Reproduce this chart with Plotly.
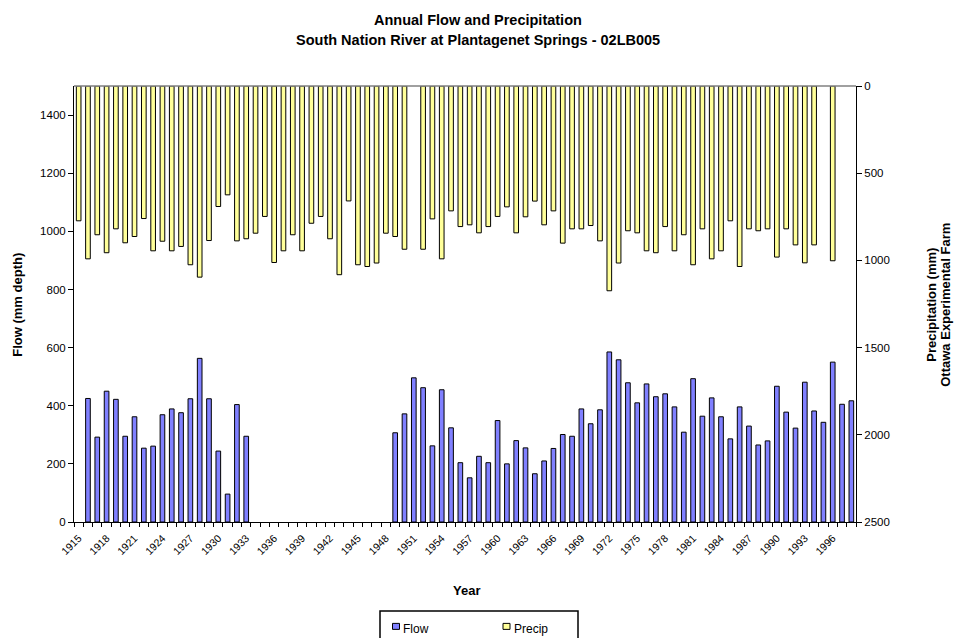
import plotly.graph_objects as go

years = list(range(1915, 1999))

flow = ([None, 425, 292, 450, 422, 295, 362, 254, 261, 369, 389, 376, 424, 563, 424, 244, 96, 404, 295]
        + [None] * 15
        + [307, 372, 496, 462, 262, 455, 324, 204, 152, 226, 204, 349, 200, 280, 255, 166, 210, 253,
           301, 295, 389, 338, 386, 585, 558, 479, 410, 475, 431, 441, 396, 309, 493, 364, 427, 362,
           286, 396, 330, 265, 279, 467, 378, 323, 481, 382, 343, 550, 405, 417])

precip = [773, 991, 853, 956, 819, 899, 863, 760, 945, 890, 945, 920, 1025, 1096, 886, 691, 624, 888,
          876, 844, 748, 1012, 945, 853, 945, 787, 748, 876, 1082, 659, 1025, 1035, 1015, 844, 863,
          936, None, 936, 762, 991, 716, 806, 796, 842, 806, 748, 693, 842, 750, 660, 796, 716, 901,
          819, 819, 800, 888, 1174, 1015, 830, 842, 945, 956, 806, 945, 853, 1025, 819, 991, 945,
          773, 1035, 819, 830, 819, 981, 819, 911, 1014, 911, None, 1002, None, None]

flow_ticks = [0, 200, 400, 600, 800, 1000, 1200, 1400]
precip_ticks = [0, 500, 1000, 1500, 2000, 2500]
label_years = list(range(1915, 1997, 3))

FLOW_COLOR = "#8080FF"
PRECIP_COLOR = "#FFFF99"
FONT = "Liberation Sans, Arial, sans-serif"

# plot area in pixels
L, R, T, B = 74, 856, 86, 522.5


def px(x):
    return (x - L) / (R - L)


def py(y):
    return (B - y) / (B - T)


fig = go.Figure()
fig.add_trace(go.Bar(x=years, y=flow, name="Flow", width=0.5,
                     marker=dict(color=FLOW_COLOR, line=dict(color="black", width=1)),
                     yaxis="y"))
fig.add_trace(go.Bar(x=years, y=precip, name="Precip", width=0.5,
                     marker=dict(color=PRECIP_COLOR, line=dict(color="black", width=1)),
                     yaxis="y2"))

fig.update_layout(
    width=956, height=638,
    margin=dict(l=L, r=956 - R, t=T, b=638 - B, autoexpand=False),
    paper_bgcolor="white", plot_bgcolor="white",
    barmode="overlay",
    showlegend=False,
    font=dict(family=FONT, size=11, color="black"),
    xaxis=dict(range=[1914.5, 1998.5], tickmode="array", tickvals=label_years,
               ticktext=[str(y) for y in label_years], tickangle=-45,
               ticks="", showline=True, linecolor="black", linewidth=1,
               showgrid=False, zeroline=False, ticklabelstandoff=5,
               tickfont=dict(size=10.5),
               minor=dict(tickvals=[y + 0.5 for y in range(1914, 1999)], ticks="outside",
                          ticklen=4, tickcolor="black", showgrid=False)),
    yaxis=dict(range=[0, 1500], tickmode="array", tickvals=flow_ticks,
               ticks="outside", ticklen=5, tickcolor="black",
               showline=True, linecolor="black", linewidth=1,
               showgrid=False, zeroline=False, tickfont=dict(size=11.5)),
    yaxis2=dict(range=[2500, 0], tickmode="array", tickvals=precip_ticks,
                overlaying="y", side="right", anchor="x",
                ticks="outside", ticklen=5, tickcolor="black",
                showline=True, linecolor="black", linewidth=1,
                showgrid=False, zeroline=False, tickfont=dict(size=11.5)),
)

# grey top border of plot area
fig.add_shape(type="line", xref="paper", yref="paper", x0=0, x1=1, y0=1, y1=1,
              line=dict(color="#808080", width=1.5))

# titles
fig.add_annotation(text="<b>Annual Flow and Precipitation</b>", xref="paper", yref="paper",
                   x=px(478), y=py(20), showarrow=False, font=dict(size=14.5),
                   xanchor="center", yanchor="middle")
fig.add_annotation(text="<b>South Nation River at Plantagenet Springs - 02LB005</b>",
                   xref="paper", yref="paper", x=px(478), y=py(40), showarrow=False,
                   font=dict(size=14.5), xanchor="center", yanchor="middle")
fig.add_annotation(text="<b>Flow (mm depth)</b>", textangle=-90, xref="paper", yref="paper",
                   x=px(18), y=py(305), showarrow=False, font=dict(size=13),
                   xanchor="center", yanchor="middle")
fig.add_annotation(text="<b>Precipitation (mm)</b>", textangle=-90,
                   xref="paper", yref="paper", x=px(932), y=py(305), showarrow=False,
                   font=dict(size=13), xanchor="center", yanchor="middle")
fig.add_annotation(text="<b>Ottawa Experimental Farm</b>", textangle=-90,
                   xref="paper", yref="paper", x=px(946), y=py(305), showarrow=False,
                   font=dict(size=13), xanchor="center", yanchor="middle")
fig.add_annotation(text="<b>Year</b>", xref="paper", yref="paper", x=px(466),
                   y=py(591), showarrow=False, font=dict(size=13),
                   xanchor="center", yanchor="middle")

# legend (box, swatches, labels)
fig.add_shape(type="rect", xref="paper", yref="paper", x0=px(380), x1=px(578),
              y0=py(611.5), y1=py(645), line=dict(color="black", width=1.5),
              fillcolor="white", layer="above")
for name, color, sx in (("Flow", FLOW_COLOR, 392.5), ("Precip", PRECIP_COLOR, 503)):
    fig.add_shape(type="rect", xref="paper", yref="paper", x0=px(sx), x1=px(sx + 7),
                  y0=py(624), y1=py(630), line=dict(color="black", width=1),
                  fillcolor=color, layer="above")
    fig.add_annotation(text=name, xref="paper", yref="paper", x=px(sx + 8.5), y=py(630),
                       showarrow=False, font=dict(size=12), xanchor="left", yanchor="middle")

fig.write_html("out.html")
